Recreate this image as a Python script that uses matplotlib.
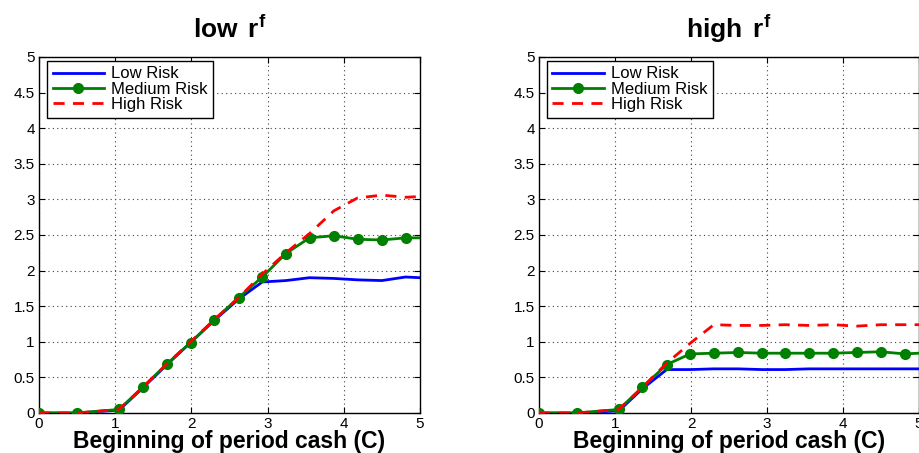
import matplotlib
matplotlib.use("Agg")
import matplotlib.pyplot as plt
import numpy as np

plt.rcParams['font.family'] = ['Liberation Sans', 'DejaVu Sans']
plt.rcParams['mathtext.fontset'] = 'custom'
plt.rcParams['mathtext.rm'] = 'Liberation Sans'
plt.rcParams['mathtext.bf'] = 'Liberation Sans:bold'
plt.rcParams['mathtext.it'] = 'Liberation Sans:italic'

# ---- data ----
cash = [0, 0.5, 1.05, 1.36, 1.68, 1.99, 2.30, 2.62, 2.93, 3.24, 3.55, 3.87, 4.18, 4.50, 4.81, 5.0]

low_rf_low = [0, 0, 0.04, 0.35, 0.68, 0.99, 1.30, 1.60, 1.84, 1.86, 1.90, 1.89, 1.87, 1.86, 1.91, 1.90]
low_rf_med = [0, 0, 0.05, 0.36, 0.69, 0.99, 1.31, 1.62, 1.91, 2.24, 2.46, 2.49, 2.44, 2.43, 2.46, 2.46]
low_rf_high = [0, 0, 0.05, 0.36, 0.69, 1.00, 1.31, 1.62, 1.95, 2.25, 2.52, 2.84, 3.02, 3.06, 3.03, 3.04]

high_rf_low = [0, 0, 0.03, 0.34, 0.61, 0.61, 0.62, 0.62, 0.61, 0.61, 0.62, 0.62, 0.62, 0.62, 0.62, 0.62]
high_rf_med = [0, 0, 0.05, 0.36, 0.68, 0.83, 0.84, 0.85, 0.84, 0.84, 0.84, 0.84, 0.85, 0.86, 0.83, 0.84]
high_rf_high = [0, 0, 0.05, 0.36, 0.70, 0.98, 1.24, 1.23, 1.23, 1.24, 1.23, 1.24, 1.22, 1.24, 1.24, 1.24]

titles = [r'$\mathbf{low\ \,r^{f}}$', r'$\mathbf{high\ \,r^{f}}$']
series_labels = ['Low Risk', 'Medium Risk', 'High Risk']
xlabel = 'Beginning of period cash (C)'
xticks = [0, 1, 2, 3, 4, 5]
yticks = [0, 0.5, 1, 1.5, 2, 2.5, 3, 3.5, 4, 4.5, 5]
ytick_labels = ['0', '0.5', '1', '1.5', '2', '2.5', '3', '3.5', '4', '4.5', '5']

panels = [
    (low_rf_low, low_rf_med, low_rf_high),
    (high_rf_low, high_rf_med, high_rf_high),
]

W, H = 919, 453
fig = plt.figure(figsize=(W / 100, H / 100), dpi=100)
ax_rects = [
    [39 / W, 1 - 413 / H, 381 / W, 356 / H],
    [539 / W, 1 - 413 / H, 380 / W, 356 / H],
]

for rect, title, (lo, me, hi) in zip(ax_rects, titles, panels):
    ax = fig.add_axes(rect)
    ax.plot(cash, lo, color='#0000ff', lw=2.0, label=series_labels[0], zorder=3)
    ax.plot(cash, me, color='#008000', lw=2.0, marker='o', ms=7,
            markevery=list(range(len(cash) - 1)), label=series_labels[1], zorder=4)
    ax.plot(cash, hi, color='#ff0000', lw=2.0, ls=(0, (4, 3)), label=series_labels[2], zorder=5)
    ax.set_xlim(0, 5)
    ax.set_ylim(0, 5)
    ax.set_xticks(xticks)
    ax.set_xticklabels([str(t) for t in xticks])
    ax.set_yticks(yticks)
    ax.set_yticklabels(ytick_labels)
    ax.tick_params(direction='in', top=True, right=True, length=4, width=0.8,
                   labelsize=11, pad=3)
    ax.grid(True, ls=(0, (1, 3)), color='0.25', lw=0.8)
    for s in ax.spines.values():
        s.set_linewidth(1.0)
        s.set_color('black')
    ax.set_title(title, fontsize=19, pad=14)
    ax.set_xlabel(xlabel, fontsize=16.5, fontweight='bold', labelpad=-0.5)
    leg = ax.legend(loc='upper left', bbox_to_anchor=(8 / 381, 1 - 4 / 356),
                    borderaxespad=0, fontsize=12, frameon=True, fancybox=False,
                    framealpha=1, edgecolor='black', handlelength=3.1,
                    handletextpad=0.4, labelspacing=0.02, borderpad=0.33)
    leg.get_frame().set_linewidth(1.0)

fig.savefig('out.png', dpi=100)
